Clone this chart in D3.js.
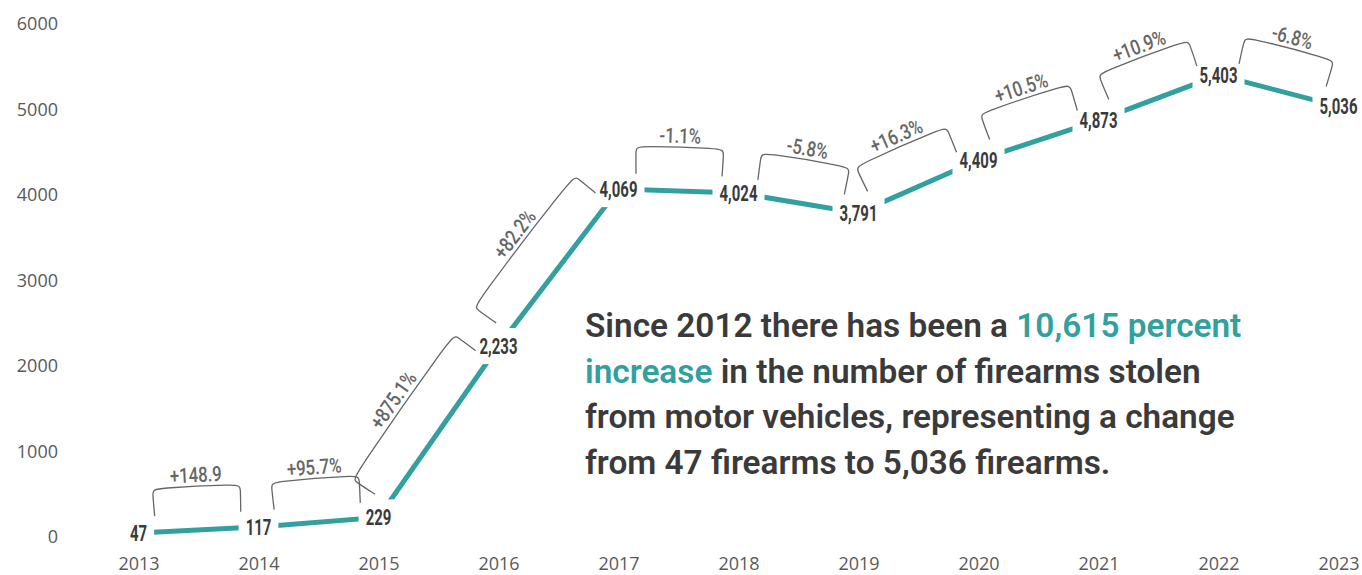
<!DOCTYPE html>
<html><head><meta charset="utf-8">
<script src="https://cdn.jsdelivr.net/npm/d3@7/dist/d3.min.js"></script>
<style>
html,body{margin:0;padding:0;background:#fff;}
svg{display:block;}
text{white-space:pre;}
</style></head>
<body><svg id="chart" width="1362" height="575"></svg>
<script>
// ---- data ----
const years = ["2013","2014","2015","2016","2017","2018","2019","2020","2021","2022","2023"];
const values = [47,117,229,2233,4069,4024,3791,4409,4873,5403,5036];
const valueLabels = ["47","117","229","2,233","4,069","4,024","3,791","4,409","4,873","5,403","5,036"];
const changeLabels = ["+148.9","+95.7%","+875.1%","+82.2%","-1.1%","-5.8%","+16.3%","+10.5%","+10.9%","-6.8%"];
const yTicks = [0,1000,2000,3000,4000,5000,6000];
const noteLine1 = [["Since 2012 there has been a ",false],["10,615 percent",true]];
const noteLine2 = [["increase",true],[" in the number of firearms stolen",false]];
const noteLine3 = [["from motor vehicles, representing a change",false]];
const noteLine4 = [["from 47 firearms to 5,036 firearms.",false]];

// ---- style ----
const TEAL = "#32a09f", DARK = "#3a3a3a", GREY = "#666666", AXIS = "#595959";
const FONT = "Roboto, 'Open Sans', 'DejaVu Sans', sans-serif";

const svg = d3.select("#chart");
const x = d3.scalePoint().domain(years).range([138.5, 1338.5]);
const y = d3.scaleLinear().domain([0, 6000]).range([537, 24]);
const pts = years.map((yr, i) => [x(yr), y(values[i])]);

function measure(str, size, weight){
  const t = svg.append("text").attr("font-family", FONT).attr("font-size", size)
    .attr("font-weight", weight).text(str);
  const w = t.node().getComputedTextLength(); t.remove(); return w;
}

// ---- axes ----
const yAxis = svg.append("g").attr("transform", "translate(60,0)")
  .call(d3.axisLeft(y).tickValues(yTicks).tickSize(0).tickPadding(2).tickFormat(d3.format("d")));
const xAxis = svg.append("g").attr("transform", "translate(0,553)")
  .call(d3.axisBottom(x).tickSize(0).tickPadding(0));
[yAxis, xAxis].forEach(g => {
  g.select(".domain").remove();
  g.selectAll("text").attr("font-family", "'Open Sans', sans-serif").attr("font-size", 18).attr("fill", AXIS);
});
xAxis.selectAll("text").attr("dy", "0.95em");

// ---- line ----
svg.append("path").datum(pts)
  .attr("d", d3.line())
  .attr("fill", "none").attr("stroke", TEAL).attr("stroke-width", 5);

// ---- brackets with change labels ----
const OFF = 44, LEG = 28, INSET = 17, GAP = 4;
const pFactor = 52 / measure("+148.9", 21, 500);
const vFactor = 38 / measure("4,069", 22, 700);
const boxes = svg.append("g");
const bg = svg.append("g");
d3.range(pts.length - 1).forEach(i => {
  const [x0, y0] = pts[i], [x1, y1] = pts[i + 1];
  const dx = x1 - x0, dy = y1 - y0, len = Math.hypot(dx, dy);
  const u = [dx / len, dy / len], n = [dy / len, -dx / len];
  const pt = (a, o) => [x0 + u[0] * a + n[0] * o, y0 + u[1] * a + n[1] * o];
  const path = [pt(INSET, OFF - LEG), pt(INSET - 1, OFF - 3), pt(INSET, OFF),
                pt(len - INSET, OFF), pt(len - INSET + 1, OFF - 3), pt(len - INSET, OFF - LEG)];
  bg.append("path").attr("d", d3.line().curve(d3.curveBasis)(path))
    .attr("fill", "none").attr("stroke", GREY).attr("stroke-width", 1.3);
  const c = pt(len / 2, OFF + GAP);
  const ang = Math.atan2(dy, dx) * 180 / Math.PI;
  bg.append("text")
    .attr("transform", `translate(${c[0]},${c[1]}) rotate(${ang}) scale(${pFactor},1)`)
    .attr("text-anchor", "middle")
    .attr("font-family", FONT).attr("font-size", 21).attr("font-weight", 500)
    .attr("fill", GREY).text(changeLabels[i]);
});

// ---- value labels (white boxes behind, over the line) ----
const vg = svg.append("g");
pts.forEach((d, i) => {
  const w = measure(valueLabels[i], 22, 700) * vFactor;
  boxes.append("rect").attr("x", d[0] - w / 2 - 7).attr("y", d[1] - 18)
    .attr("width", w + 14).attr("height", 36).attr("fill", "#fff");
  vg.append("text")
    .attr("transform", `translate(${d[0]},${d[1]}) scale(${vFactor},1)`)
    .attr("text-anchor", "middle").attr("dy", "0.36em")
    .attr("font-family", FONT).attr("font-size", 22).attr("font-weight", 700)
    .attr("fill", DARK).text(valueLabels[i]);
});

// ---- annotation ----
const note = svg.append("g").attr("font-family", FONT).attr("font-size", 33).attr("font-weight", 600);
const lines = [noteLine1, noteLine2, noteLine3, noteLine4];
const baselines = [337, 382.5, 428, 473.5];
const tLines = lines.map((ln, k) => {
  const t = note.append("text").attr("x", 0).attr("y", 0);
  ln.forEach(([s, hl]) => t.append("tspan").attr("fill", hl ? TEAL : DARK).text(s));
  return t;
});
const nFactor = 650 / tLines[2].node().getComputedTextLength();
tLines.forEach((t, k) => t.attr("transform", `translate(585,${baselines[k]}) scale(${nFactor},1)`));
</script>
</body></html>
